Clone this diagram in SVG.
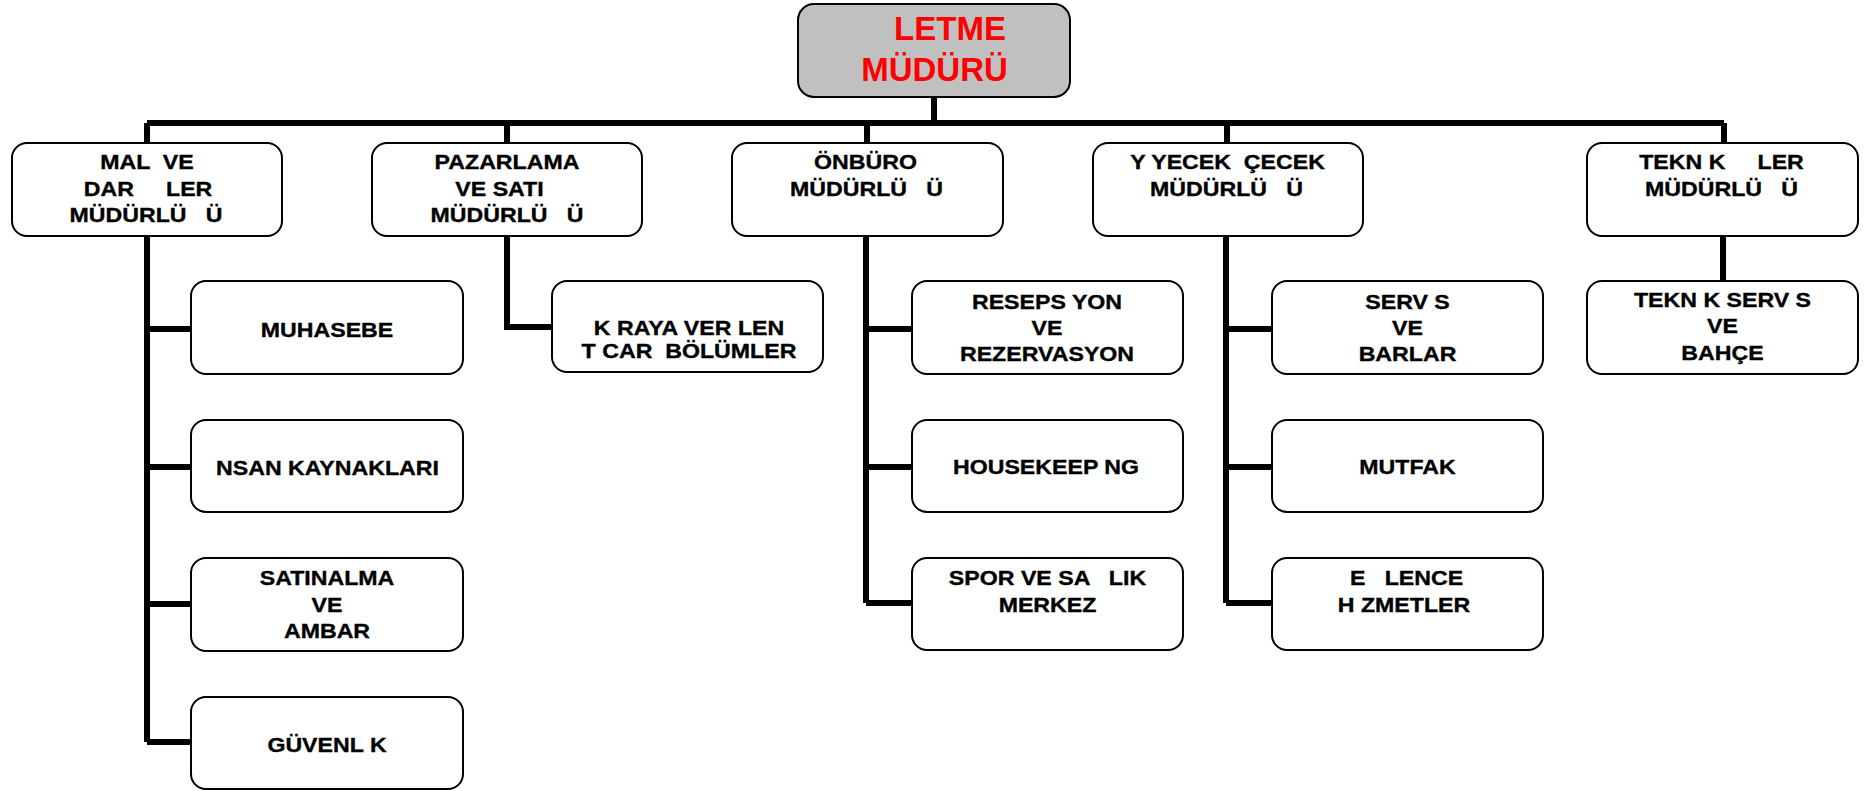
<svg xmlns="http://www.w3.org/2000/svg" width="1865" height="791" viewBox="0 0 1865 791">
<style>
.box{fill:#ffffff;stroke:#000000;stroke-width:2}
.top{fill:#c0c0c0;stroke:#000000;stroke-width:2}
.t{font-family:"Liberation Sans",Arial,sans-serif;font-weight:bold;font-size:20.5px;fill:#000000;stroke:#000000;stroke-width:0.35;text-anchor:middle}
.h{font-family:"Liberation Sans",Arial,sans-serif;font-weight:bold;font-size:33px;fill:#ff0000;text-anchor:middle}
.c{fill:none;stroke:#000000;stroke-width:6}
</style>
<rect width="1865" height="791" fill="#ffffff"/>
<g id="connectors">
<path class="c" d="M934,97V123M147,123H1724M147,123V143M507,123V143M867,123V143M1227,123V143M1724,123V143"/>
<path class="c" d="M147,236V742M147,329H191M147,467H191M147,604H191M147,742H191"/>
<path class="c" d="M507,236V327H552"/>
<path class="c" d="M866,236V603M866,329H912M866,467H912M866,603H912"/>
<path class="c" d="M1226,236V603M1226,329H1272M1226,467H1272M1226,603H1272"/>
<path class="c" d="M1723,236V281"/>
</g>
<g id="n-top">
<rect class="top" x="798" y="4" width="272" height="93" rx="16"/>
<text class="h" x="950" y="40">LETME</text>
<text class="h" x="934.5" y="81">MÜDÜRÜ</text>
</g>
<g id="n-mali">
<rect class="box" x="12" y="143" width="270" height="93" rx="15"/>
<text class="t" xml:space="preserve" transform="translate(147,169) scale(1.13,1)">MAL  VE</text>
<text class="t" xml:space="preserve" transform="translate(148,196) scale(1.13,1)">DAR     LER</text>
<text class="t" xml:space="preserve" transform="translate(146,222) scale(1.13,1)">MÜDÜRLÜ   Ü</text>
</g>
<g id="n-pazarlama">
<rect class="box" x="372" y="143" width="270" height="93" rx="15"/>
<text class="t" transform="translate(507,169) scale(1.13,1)">PAZARLAMA</text>
<text class="t" transform="translate(499.5,196) scale(1.13,1)">VE SATI</text>
<text class="t" xml:space="preserve" transform="translate(507,222) scale(1.13,1)">MÜDÜRLÜ   Ü</text>
</g>
<g id="n-onburo">
<rect class="box" x="732" y="143" width="271" height="93" rx="15"/>
<text class="t" transform="translate(865.5,169) scale(1.13,1)">ÖNBÜRO</text>
<text class="t" xml:space="preserve" transform="translate(866.5,196) scale(1.13,1)">MÜDÜRLÜ   Ü</text>
</g>
<g id="n-yiyecek">
<rect class="box" x="1093" y="143" width="270" height="93" rx="15"/>
<text class="t" xml:space="preserve" transform="translate(1227.5,169) scale(1.13,1)">Y YECEK  ÇECEK</text>
<text class="t" xml:space="preserve" transform="translate(1226.5,196) scale(1.13,1)">MÜDÜRLÜ   Ü</text>
</g>
<g id="n-teknik">
<rect class="box" x="1587" y="143" width="271" height="93" rx="15"/>
<text class="t" xml:space="preserve" transform="translate(1721.5,169) scale(1.13,1)">TEKN K     LER</text>
<text class="t" xml:space="preserve" transform="translate(1721.5,196) scale(1.13,1)">MÜDÜRLÜ   Ü</text>
</g>
<g id="n-muhasebe">
<rect class="box" x="191" y="281" width="272" height="93" rx="15"/>
<text class="t" transform="translate(327,337) scale(1.13,1)">MUHASEBE</text>
</g>
<g id="n-insan">
<rect class="box" x="191" y="420" width="272" height="92" rx="15"/>
<text class="t" transform="translate(327.5,475) scale(1.13,1)">NSAN KAYNAKLARI</text>
</g>
<g id="n-satinalma">
<rect class="box" x="191" y="558" width="272" height="93" rx="15"/>
<text class="t" transform="translate(327,585) scale(1.13,1)">SATINALMA</text>
<text class="t" transform="translate(327,612) scale(1.13,1)">VE</text>
<text class="t" transform="translate(327,638) scale(1.13,1)">AMBAR</text>
</g>
<g id="n-guvenlik">
<rect class="box" x="191" y="697" width="272" height="92" rx="15"/>
<text class="t" transform="translate(327,752) scale(1.13,1)">GÜVENL K</text>
</g>
<g id="n-kiraya">
<rect class="box" x="552" y="281" width="271" height="91" rx="15"/>
<text class="t" transform="translate(689,335) scale(1.13,1)">K RAYA VER LEN</text>
<text class="t" xml:space="preserve" transform="translate(689,358) scale(1.13,1)">T CAR  BÖLÜMLER</text>
</g>
<g id="n-resepsiyon">
<rect class="box" x="912" y="281" width="271" height="93" rx="15"/>
<text class="t" transform="translate(1047,309) scale(1.13,1)">RESEPS YON</text>
<text class="t" transform="translate(1047,335) scale(1.13,1)">VE</text>
<text class="t" transform="translate(1047,361) scale(1.13,1)">REZERVASYON</text>
</g>
<g id="n-housekeeping">
<rect class="box" x="912" y="420" width="271" height="92" rx="15"/>
<text class="t" transform="translate(1046,474) scale(1.13,1)">HOUSEKEEP NG</text>
</g>
<g id="n-spor">
<rect class="box" x="912" y="558" width="271" height="92" rx="15"/>
<text class="t" xml:space="preserve" transform="translate(1047.5,585) scale(1.13,1)">SPOR VE SA   LIK</text>
<text class="t" transform="translate(1047.5,612) scale(1.13,1)">MERKEZ</text>
</g>
<g id="n-servis">
<rect class="box" x="1272" y="281" width="271" height="93" rx="15"/>
<text class="t" transform="translate(1407.5,309) scale(1.13,1)">SERV S</text>
<text class="t" transform="translate(1407.5,335) scale(1.13,1)">VE</text>
<text class="t" transform="translate(1407.5,361) scale(1.13,1)">BARLAR</text>
</g>
<g id="n-mutfak">
<rect class="box" x="1272" y="420" width="271" height="92" rx="15"/>
<text class="t" transform="translate(1407.5,474) scale(1.13,1)">MUTFAK</text>
</g>
<g id="n-eglence">
<rect class="box" x="1272" y="558" width="271" height="92" rx="15"/>
<text class="t" xml:space="preserve" transform="translate(1406.5,585) scale(1.13,1)">E   LENCE</text>
<text class="t" transform="translate(1404,612) scale(1.13,1)">H ZMETLER</text>
</g>
<g id="n-teknikservis">
<rect class="box" x="1587" y="281" width="271" height="93" rx="15"/>
<text class="t" transform="translate(1722.5,307) scale(1.13,1)">TEKN K SERV S</text>
<text class="t" transform="translate(1722.5,333) scale(1.13,1)">VE</text>
<text class="t" transform="translate(1722.5,360) scale(1.13,1)">BAHÇE</text>
</g>
</svg>
